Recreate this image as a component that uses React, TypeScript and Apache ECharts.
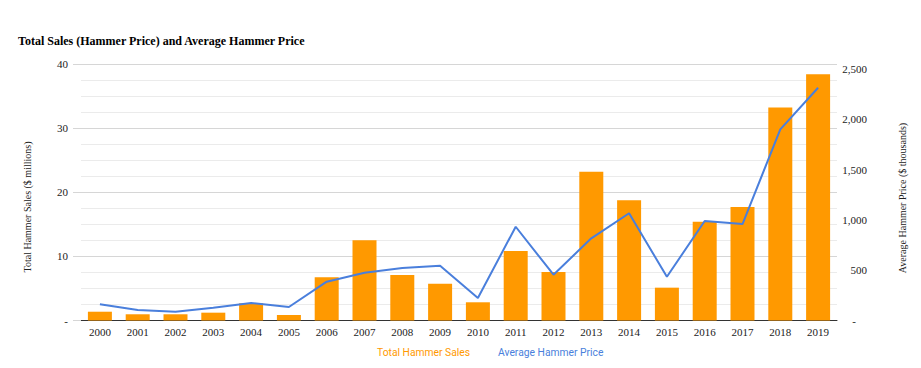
import React, { useEffect, useRef } from "react";
import * as echarts from "echarts";

const years = ["2000","2001","2002","2003","2004","2005","2006","2007","2008","2009","2010","2011","2012","2013","2014","2015","2016","2017","2018","2019"];
const totalSales = [1.37,0.97,0.97,1.22,2.68,0.86,6.74,12.5,7.1,5.74,2.84,10.84,7.57,23.2,18.75,5.12,15.4,17.7,33.2,38.4];
const avgPrice = [161,104,87,127,174,134,386,475,522,545,224,932,455,817,1066,435,989,959,1900,2314];
const leftTicks = [0,10,20,30,40];
const rightTicks = [0,500,1000,1500,2000,2500];

const SERIF = "'Liberation Serif', 'Times New Roman', serif";
const SANS = "Roboto, 'Noto Sans', sans-serif";
const ORANGE = "#FF9900";
const BLUE = "#4A7FDC";

export default function App() {
  const ref = useRef<HTMLDivElement>(null);
  useEffect(() => {
    const chart = echarts.init(ref.current!, null, { renderer: "svg" });
    chart.setOption({
      animation: false,
      grid: { left: 81, right: 84, top: 64, bottom: 47.5 },
      graphic: [
        { type: "text", left: 18, top: 35, style: { text: "Total Sales (Hammer Price) and Average Hammer Price", font: `bold 12px ${SERIF}`, fill: "#000" } },
        { type: "text", x: 27, y: 207, rotation: Math.PI / 2, style: { text: "Total Hammer Sales ($ millions)", font: `10px ${SERIF}`, fill: "#222", align: "center", verticalAlign: "middle" } },
        { type: "text", x: 902, y: 198, rotation: Math.PI / 2, style: { text: "Average Hammer Price ($ thousands)", font: `10px ${SERIF}`, fill: "#222", align: "center", verticalAlign: "middle" } },
        { type: "text", x: 377, y: 352, style: { text: "Total Hammer Sales", font: `10.3px ${SANS}`, fill: ORANGE, verticalAlign: "middle" } },
        { type: "text", x: 498, y: 352, style: { text: "Average Hammer Price", font: `10.3px ${SANS}`, fill: BLUE, verticalAlign: "middle" } },
      ],
      xAxis: {
        type: "category",
        data: years,
        axisTick: { show: false },
        axisLine: { lineStyle: { color: "#333", width: 1 } },
        axisLabel: { interval: 0, fontFamily: SERIF, fontSize: 11, color: "#222", margin: 6 },
      },
      yAxis: [
        {
          type: "value",
          min: 0,
          max: 40,
          interval: 10,
          axisLine: { show: false },
          axisTick: { show: true, length: 8, lineStyle: { color: "#d6d6d6" } },
          splitLine: { lineStyle: { color: "#d6d6d6" } },
          minorTick: { show: false, splitNumber: 4 },
          minorSplitLine: { show: true, lineStyle: { color: "#ebebeb" } },
          axisLabel: {
            fontFamily: SERIF, fontSize: 11, color: "#222", margin: 13,
            formatter: (v: number) => (v === 0 ? "-" : leftTicks.includes(v) ? String(v) : ""),
          },
        },
        {
          type: "value",
          min: 0,
          max: 2550,
          interval: 500,
          position: "right",
          axisLine: { show: false },
          axisTick: { show: false },
          splitLine: { show: false },
          axisLabel: {
            fontFamily: SERIF, fontSize: 11, color: "#222", margin: 30, align: "right",
            formatter: (v: number) => (v === 0 ? "-    " : rightTicks.includes(v) ? v.toLocaleString("en-US") : ""),
          },
        },
      ],
      series: [
        {
          name: "Total Hammer Sales",
          type: "bar",
          data: totalSales,
          barWidth: 24,
          itemStyle: { color: ORANGE },
          yAxisIndex: 0,
        },
        {
          name: "Average Hammer Price",
          type: "line",
          data: avgPrice,
          yAxisIndex: 1,
          symbol: "none",
          lineStyle: { color: BLUE, width: 2 },
          itemStyle: { color: BLUE },
        },
      ],
    });
    return () => chart.dispose();
  }, []);
  return <div ref={ref} style={{ width: 921, height: 368, position: "absolute", left: 0, top: 0 }} />;
}
